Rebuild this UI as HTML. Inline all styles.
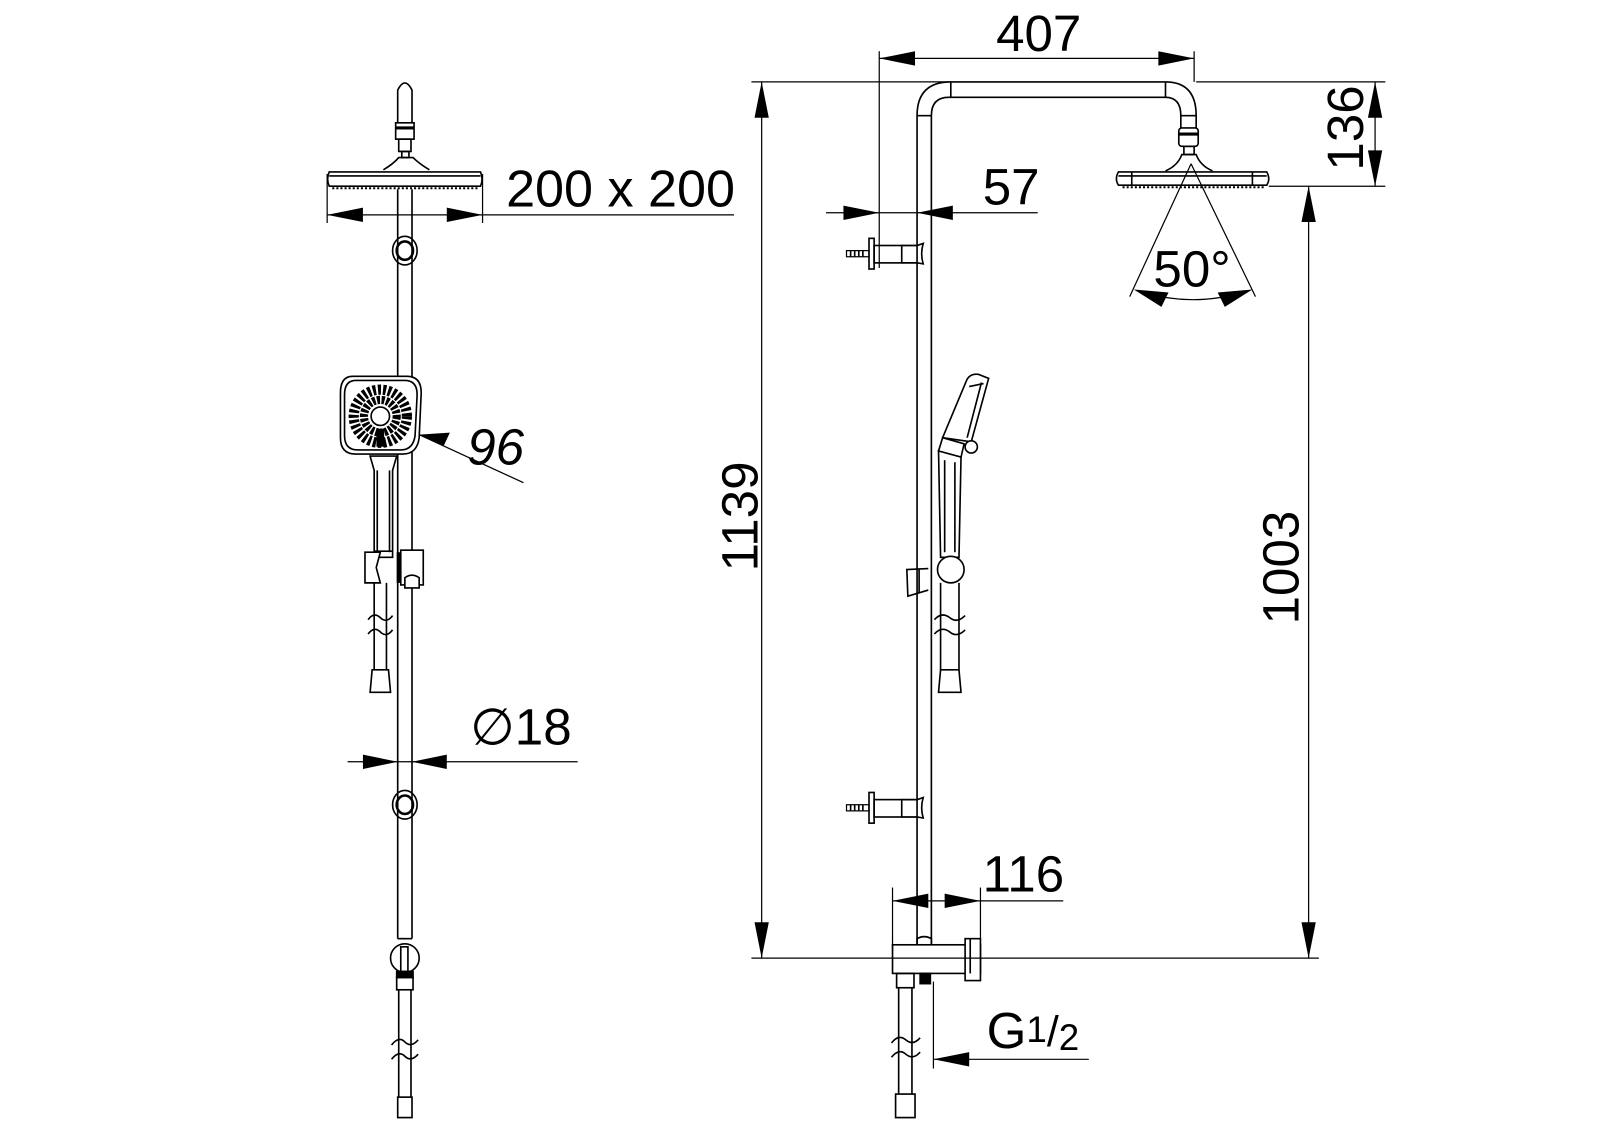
<!DOCTYPE html>
<html><head><meta charset="utf-8"><style>
html,body{margin:0;padding:0;background:#fff;}
svg{display:block;}
text{font-family:"Liberation Sans",Arial,sans-serif;fill:#000;}
</style></head><body>
<svg width="1600" height="1131" viewBox="0 0 1565 1106" xmlns="http://www.w3.org/2000/svg">
<g fill="none" stroke="#000" stroke-width="1.6">
<!-- ===== LEFT FIGURE ===== -->
<path d="M389,120 L389,88 Q396,74 403,88 L403,120"/>
<rect x="387" y="120" width="18" height="16"/>
<line x1="387" y1="125" x2="405" y2="125" stroke-width="3"/>
<rect x="390" y="136" width="12" height="12"/>
<rect x="393" y="148" width="7" height="6"/>
<path d="M375,166 Q385,160 390,154 L404,154 Q410,160 420,166"/>
<path d="M322,168 L470,168 Q473,175 470,182 L322,182 Q319,175 322,168 Z"/>
<line x1="322" y1="172" x2="470" y2="172"/>
<line x1="325" y1="184" x2="468" y2="184" stroke-dasharray="2 2" stroke-width="2"/>
<line x1="389" y1="185" x2="389" y2="918"/>
<line x1="403" y1="185" x2="403" y2="918"/>
<ellipse cx="396" cy="245" rx="12" ry="14"/>
<ellipse cx="396" cy="245" rx="8" ry="9" stroke-width="2.5"/>
<ellipse cx="396" cy="787" rx="12" ry="14"/>
<ellipse cx="396" cy="787" rx="8" ry="9" stroke-width="2.5"/>
<!-- hand shower -->
<path d="M345,368 L398,368 Q412,368 412,384 L410,428 Q408,444 394,444 L348,444 Q333,444 333,428 L333,384 Q333,368 345,368 Z" fill="#fff"/>
<path d="M348,372 L396,372 Q408,372 408,386 L406,426 Q404,440 392,440 L350,440 Q337,440 337,426 L337,386 Q337,372 348,372 Z"/>
<circle cx="372" cy="407" r="26" stroke="#000" stroke-width="10" stroke-dasharray="3 2"/>
<circle cx="372" cy="407" r="16" stroke="#000" stroke-width="8" stroke-dasharray="3 1.5"/>
<circle cx="372" cy="407" r="9" fill="#fff"/>
<rect x="369" y="420" width="6" height="16" fill="#000"/>
<path d="M362,446 L388,446 L384,460 L384,545 L366,545 L366,460 Z" fill="#fff"/>
<line x1="369" y1="460" x2="369" y2="540"/>
<line x1="381" y1="460" x2="381" y2="540"/>
<line x1="366" y1="539" x2="384" y2="539"/>
<path d="M357,540 L372,540 L368,555 L372,570 L357,570 Z" fill="#fff"/>
<rect x="392" y="538" width="22" height="34" fill="#fff"/>
<rect x="388" y="540" width="4" height="30" fill="#000" stroke="none"/>
<path d="M396,575 L396,565 Q403,560 410,565 L410,575 Z" fill="#fff"/>
<line x1="366" y1="570" x2="366" y2="655"/>
<line x1="378" y1="570" x2="378" y2="655"/>
<path d="M360,606 Q366,598 372,604 Q378,610 384,602" fill="none"/>
<path d="M360,620 Q366,612 372,618 Q378,624 384,616"/>
<path d="M364,655 L380,655 L382,677 L362,677 Z"/>
<!-- bottom valve -->
<line x1="389" y1="918" x2="403" y2="918"/>
<circle cx="396" cy="937" r="14" fill="#fff"/>
<rect x="392" y="926" width="7" height="26"/>
<rect x="388" y="950" width="16" height="6" fill="#000"/>
<rect x="388" y="956" width="16" height="12"/>
<line x1="390" y1="968" x2="390" y2="1073"/>
<line x1="402" y1="968" x2="402" y2="1073"/>
<path d="M383,1022 Q390,1013 396,1019 Q402,1025 409,1017"/>
<path d="M383,1036 Q390,1027 396,1033 Q402,1039 409,1031"/>
<rect x="389" y="1073" width="14" height="20"/>

<line x1="320" y1="170" x2="320" y2="218" stroke-width="1.2"/>
<line x1="472" y1="170" x2="472" y2="218" stroke-width="1.2"/>
<line x1="320" y1="210" x2="718" y2="210" stroke-width="1.2"/>
<line x1="512" y1="472" x2="410" y2="425" stroke-width="1.2"/>
<line x1="340" y1="745" x2="565" y2="745" stroke-width="1.2"/>

<!-- ===== RIGHT FIGURE ===== -->
<path d="M897,930 L897,113 Q897,80 930,80 L1140,80 Q1170,80 1170,113 L1170,125"/>
<path d="M911,930 L911,113 Q911,95 928,95 L1140,95 Q1155,95 1155,113 L1155,125"/>
<line x1="930" y1="80" x2="930" y2="95"/>
<line x1="1140" y1="80" x2="1140" y2="95"/>
<line x1="897" y1="113" x2="911" y2="113"/>
<line x1="1155" y1="113" x2="1170" y2="113"/>
<rect x="1153" y="125" width="19" height="18" rx="3"/>
<line x1="1153" y1="131" x2="1172" y2="131" stroke-width="3"/>
<rect x="1158" y="143" width="10" height="8"/>
<path d="M1140,167 Q1152,162 1156,151 L1170,151 Q1174,162 1186,167"/>
<path d="M1094,168 L1239,168 Q1243,175 1239,181 L1094,181 Q1090,175 1094,168 Z"/>
<line x1="1094" y1="172" x2="1239" y2="172"/>
<line x1="1107" y1="168" x2="1107" y2="181"/>
<line x1="1225" y1="168" x2="1225" y2="181"/>
<line x1="1098" y1="183" x2="1238" y2="183" stroke-dasharray="2 2" stroke-width="2"/>
<g id="wb">
<rect x="828" y="245" width="22" height="6" stroke-width="1.2"/>
<line x1="832" y1="245" x2="832" y2="251"/><line x1="836" y1="245" x2="836" y2="251"/><line x1="840" y1="245" x2="840" y2="251"/><line x1="844" y1="245" x2="844" y2="251"/>
<rect x="850" y="233" width="5" height="30"/>
<rect x="855" y="240" width="27" height="17"/>
<path d="M882,240 L897,240 L903,238 Q900,248 903,258 L897,257 L882,257"/>
</g>
<use href="#wb" transform="translate(0,542)"/>
<!-- hand shower right -->
<path d="M922,428 L945,373 Q948,365 957,366 L967,370 L950,432 Z" fill="#fff"/>
<line x1="948" y1="378" x2="962" y2="375"/>
<path d="M960,374 L946,428"/>
<circle cx="950" cy="437" r="6" fill="#fff"/>
<path d="M922,428 L943,434 L940,447 L918,441 Z" fill="#fff"/>
<path d="M918,441 L940,447 L938,545 L920,545 Z" fill="#fff"/>
<line x1="924" y1="450" x2="924" y2="540"/>
<line x1="934" y1="452" x2="934" y2="540"/>
<path d="M908,556 L887,557 L888,583 L908,577"/>
<line x1="899" y1="557" x2="899" y2="580"/>
<circle cx="930" cy="557" r="13" fill="#fff"/>
<line x1="920" y1="570" x2="920" y2="655"/>
<line x1="938" y1="570" x2="938" y2="655"/>
<path d="M914,606 Q921,598 929,604 Q936,610 944,602"/>
<path d="M914,620 Q921,612 929,618 Q936,624 944,616"/>
<path d="M920,655 L938,655 L940,677 L918,677 Z"/>
<!-- bottom unit -->
<rect x="873" y="924" width="86" height="28" fill="#fff"/>
<path d="M897,924 L897,918 Q904,914 911,918 L911,924"/>
<rect x="944" y="918" width="15" height="41" fill="#fff"/>
<line x1="949" y1="918" x2="949" y2="952"/>
<rect x="877" y="952" width="17" height="14"/>
<rect x="900" y="952" width="10" height="10" fill="#000"/>
<line x1="879" y1="966" x2="879" y2="1070"/>
<line x1="892" y1="966" x2="892" y2="1070"/>
<path d="M872,1020 Q879,1011 886,1017 Q893,1023 900,1015"/>
<path d="M872,1034 Q879,1025 886,1031 Q893,1037 900,1029"/>
<rect x="876" y="1070" width="19" height="23"/>

<g stroke-width="1.2">
<line x1="860" y1="50" x2="860" y2="262"/>
<line x1="1168" y1="50" x2="1168" y2="80"/>
<line x1="860" y1="57" x2="1168" y2="57"/>
<line x1="735" y1="80" x2="930" y2="80"/>
<line x1="1170" y1="80" x2="1355" y2="80"/>
<line x1="1241" y1="182" x2="1355" y2="182"/>
<line x1="1345" y1="80" x2="1345" y2="182"/>
<line x1="808" y1="208" x2="1015" y2="208"/>
<line x1="745" y1="80" x2="745" y2="937"/>
<line x1="1280" y1="182" x2="1280" y2="937"/>
<line x1="735" y1="937" x2="1290" y2="937"/>
<line x1="873" y1="868" x2="873" y2="930"/>
<line x1="959" y1="868" x2="959" y2="918"/>
<line x1="873" y1="881" x2="1040" y2="881"/>
<line x1="913" y1="960" x2="913" y2="1045"/>
<line x1="913" y1="1036" x2="1065" y2="1036"/>
<line x1="1165" y1="160" x2="1105" y2="290"/>
<line x1="1165" y1="160" x2="1228" y2="290"/>
<path d="M1112,284 Q1166,302 1222,284"/>
</g>
</g>
<g fill="#000" stroke="none">
<polygon points="320,210 355,203 355,217"/>
<polygon points="472,210 437,203 437,217"/>
<polygon points="410,425 440,423 434,436"/>
<polygon points="389,745 355,738 355,752"/>
<polygon points="403,745 437,738 437,752"/>
<polygon points="860,57 895,50 895,64"/>
<polygon points="1168,57 1133,50 1133,64"/>
<polygon points="1345,80 1338,115 1352,115"/>
<polygon points="1345,182 1338,147 1352,147"/>
<polygon points="860,208 825,201 825,215"/>
<polygon points="897,208 932,201 932,215"/>
<polygon points="745,80 738,115 752,115"/>
<polygon points="745,937 738,902 752,902"/>
<polygon points="1280,182 1273,217 1287,217"/>
<polygon points="1280,937 1273,902 1287,902"/>
<polygon points="873,881 908,874 908,888"/>
<polygon points="959,881 924,874 924,888"/>
<polygon points="913,1036 948,1029 948,1043"/>
<polygon points="1109,283 1143,286 1136,300"/>
<polygon points="1225,283 1191,286 1198,300"/>
</g>
<text x="495" y="202" font-size="51">200 x 200</text>
<text x="457" y="454" font-size="50" font-style="italic">96</text>
<text x="460" y="728" font-size="50">∅18</text>
<text x="1016" y="50" font-size="50" text-anchor="middle">407</text>
<text x="989" y="200" font-size="50" text-anchor="middle">57</text>
<text x="1166" y="280" font-size="50" text-anchor="middle">50°</text>
<text x="1001" y="872" font-size="50" text-anchor="middle">116</text>
<text x="965" y="1025" font-size="50">G<tspan font-size="36" dy="-6">1</tspan><tspan font-size="42" dy="4">/</tspan><tspan font-size="36" dy="4">2</tspan></text>
<text transform="translate(1333,125) rotate(-90)" font-size="50" text-anchor="middle">136</text>
<text transform="translate(741,505) rotate(-90)" font-size="50" text-anchor="middle">1139</text>
<text transform="translate(1270,555) rotate(-90)" font-size="50" text-anchor="middle">1003</text>
</svg>
</body></html>
